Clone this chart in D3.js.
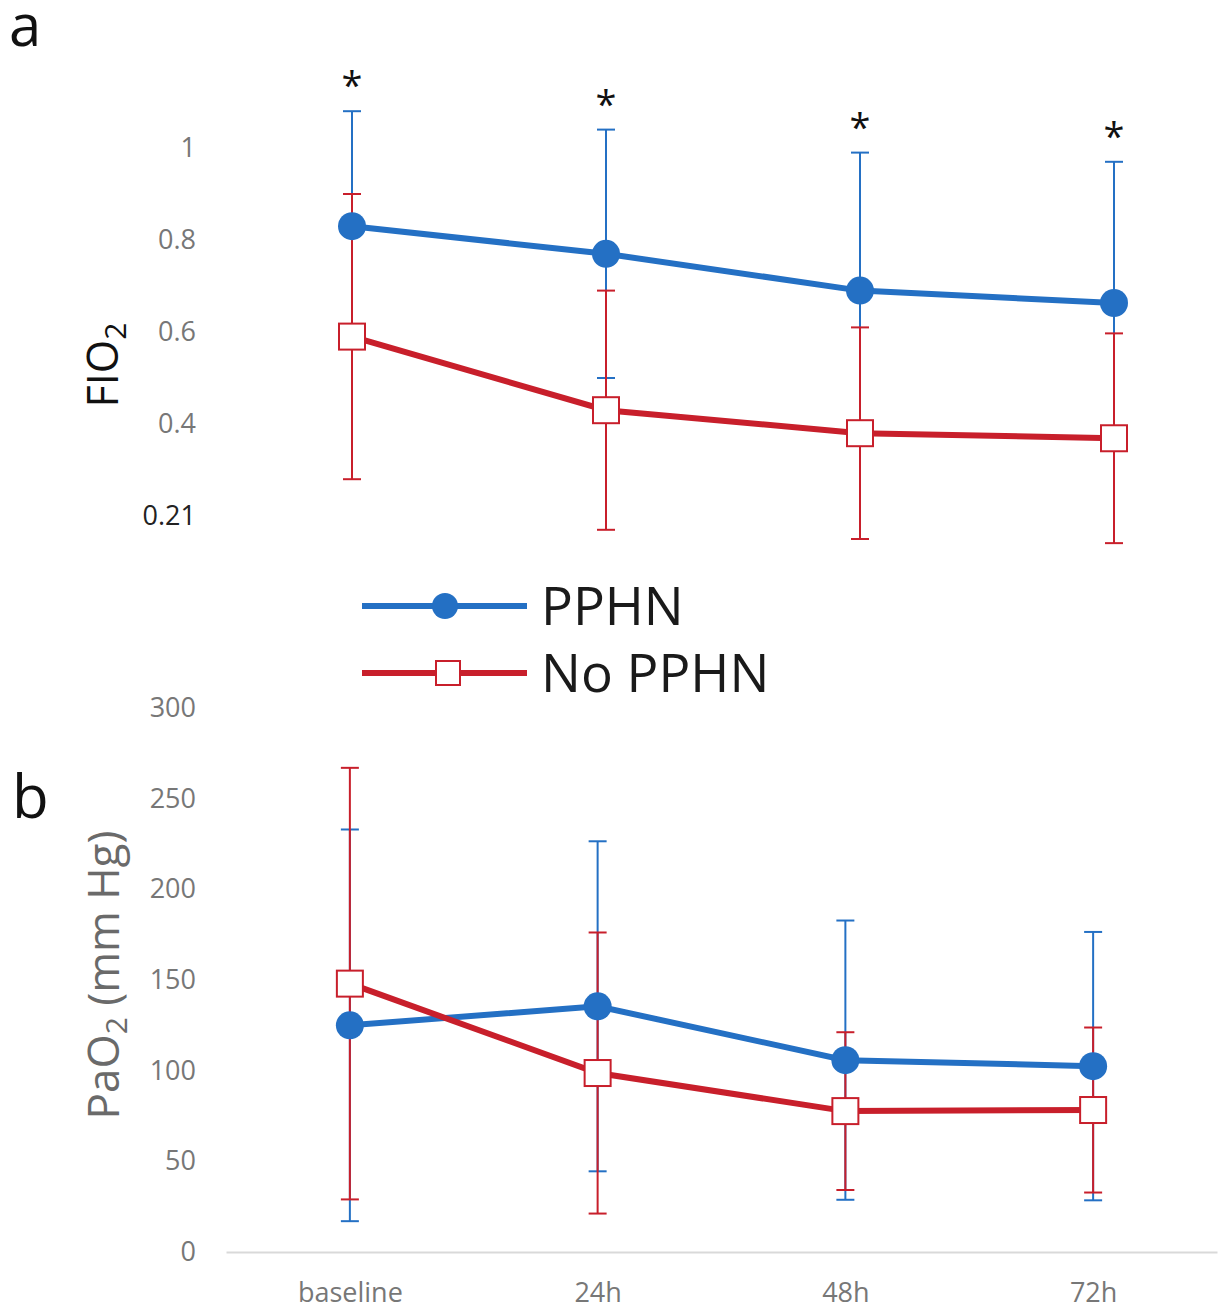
<!DOCTYPE html>
<html>
<head>
<meta charset="utf-8">
<script src="https://cdn.jsdelivr.net/npm/d3@7"></script>
<style>
  body { margin: 0; background: #fff; }
  text { font-family: "Open Sans", "Noto Sans", sans-serif; }
</style>
</head>
<body>
<div id="chart"></div>
<script>
// time points
const categories = ["baseline", "24h", "48h", "72h"]

// panel a: FIO2 mean and SD
const fioPPHN = [0.83, 0.77, 0.69, 0.663]
const fioPPHNsd = [0.25, 0.27, 0.30, 0.307]
const fioNoPPHN = [0.59, 0.43, 0.38, 0.369]
const fioNoPPHNsd = [0.31, 0.26, 0.23, 0.228]
const fioTicks = [0.2, 0.4, 0.6, 0.8, 1]
const fioTickLabels = ["0.21", "0.4", "0.6", "0.8", "1"]

// panel b: PaO2 mean and SD
const paoPPHN = [125, 135.5, 105.8, 102.5]
const paoPPHNsd = [108, 91, 77, 74]
const paoNoPPHN = [148, 98.7, 77.7, 78.3]
const paoNoPPHNsd = [119, 77.5, 43.5, 45.5]
const paoTicks = [0, 50, 100, 150, 200, 250, 300]

const seriesNames = ["PPHN", "No PPHN"]

const width = 1222
const height = 1309
const blue = '#2470c4'
const red = '#c81f2b'

let svg = d3.select("#chart")
    .append("svg")
    .attr("width", width)
    .attr("height", height)

// scales for the two panels
const xTop = d3.scalePoint().domain(categories).range([225, 1241]).padding(0.5)
const yTop = d3.scaleLinear().domain([0.2, 1]).range([516, 148])
const xBot = d3.scalePoint().domain(categories).range([226, 1217]).padding(0.5)
const yBot = d3.scaleLinear().domain([0, 300]).range([1252, 708])

/**
 * draws the error bars (mean +- sd) of one series
 */
function drawErrorBars(g, x, y, means, sds, color) {
    const pts = categories.map((c, i) => ({ c: c, m: means[i], sd: sds[i] }))
    const eb = g.append("g").attr("stroke", color).attr("stroke-width", 2)
    pts.forEach(p => {
        const cx = x(p.c)
        eb.append("line").attr("x1", cx).attr("x2", cx)
            .attr("y1", y(p.m + p.sd)).attr("y2", y(p.m - p.sd))
        ;[p.m + p.sd, p.m - p.sd].forEach(v => {
            eb.append("line").attr("x1", cx - 9).attr("x2", cx + 9)
                .attr("y1", y(v)).attr("y2", y(v))
        })
    })
    return pts
}

/**
 * draws the line and the markers of one series
 */
function drawLineMarkers(g, x, y, pts, color, marker) {
    const line = d3.line().x(d => x(d.c)).y(d => y(d.m))
    g.append("path").datum(pts)
        .attr("fill", "none").attr("stroke", color).attr("stroke-width", 6)
        .attr("d", line)
    if (marker === "circle") {
        g.selectAll(null).data(pts).enter().append("circle")
            .attr("cx", d => x(d.c)).attr("cy", d => y(d.m)).attr("r", 14)
            .attr("fill", color)
    } else {
        g.selectAll(null).data(pts).enter().append("rect")
            .attr("x", d => x(d.c) - 13).attr("y", d => y(d.m) - 13)
            .attr("width", 26).attr("height", 26)
            .attr("fill", "#fff").attr("stroke", color).attr("stroke-width", 2)
    }
}

function drawPanel(x, y, pphn, pphnSd, no, noSd) {
    const g = svg.append("g")
    const p1 = drawErrorBars(g, x, y, pphn, pphnSd, blue)
    const p2 = drawErrorBars(g, x, y, no, noSd, red)
    drawLineMarkers(g, x, y, p1, blue, "circle")
    drawLineMarkers(g, x, y, p2, red, "square")
    return p1
}

// ---- panel a ----
const topPts = drawPanel(xTop, yTop, fioPPHN, fioPPHNsd, fioNoPPHN, fioNoPPHNsd)

svg.append("g")
    .attr("transform", "translate(200,0)")
    .call(d3.axisLeft(yTop).tickValues(fioTicks).tickSize(0).tickPadding(4)
        .tickFormat((d, i) => fioTickLabels[i]))
    .call(g => g.select(".domain").remove())
    .selectAll("text")
    .attr("font-size", 27)
    .attr("font-family", '"Open Sans", sans-serif')
    .attr("fill", (d, i) => i === 0 ? "#222" : "#777")

// significance asterisks
svg.append("g").selectAll("text").data(topPts).enter().append("text")
    .attr("x", d => xTop(d.c))
    .attr("y", d => yTop(d.m + d.sd) - 12)
    .attr("text-anchor", "middle")
    .attr("font-size", 38)
    .attr("fill", "#111")
    .text("*")

// FIO2 label
let fio = svg.append("text")
    .attr("transform", "translate(118,365) rotate(-90)")
    .attr("text-anchor", "middle")
    .attr("font-size", 43)
    .attr("fill", "#111")
fio.append("tspan").text("FIO")
fio.append("tspan").attr("font-size", 30).attr("dy", 8).text("2")

svg.append("text").attr("x", 9).attr("y", 46)
    .attr("font-size", 58).attr("fill", "#111").text("a")

// legend
const legend = svg.append("g")
seriesNames.forEach((name, i) => {
    const ly = 606 + i * 67
    const color = i === 0 ? blue : red
    legend.append("line").attr("x1", 362).attr("x2", 527)
        .attr("y1", ly).attr("y2", ly)
        .attr("stroke", color).attr("stroke-width", 6)
    if (i === 0) {
        legend.append("circle").attr("cx", 445).attr("cy", ly).attr("r", 13).attr("fill", color)
    } else {
        legend.append("rect").attr("x", 436).attr("y", ly - 12).attr("width", 24).attr("height", 24)
            .attr("fill", "#fff").attr("stroke", color).attr("stroke-width", 2)
    }
    legend.append("text").attr("x", 541).attr("y", ly + 19)
        .attr("font-size", 53).attr("fill", "#1a1a1a").text(name)
})

// ---- panel b ----
svg.append("g")
    .attr("transform", "translate(0,1252)")
    .call(d3.axisBottom(xBot).tickSize(0).tickSizeOuter(0).tickPadding(31))
    .call(g => g.select(".domain").attr("stroke", "#d9d9d9").attr("stroke-width", 2))
    .selectAll("text")
    .attr("font-size", 27)
    .attr("font-family", '"Open Sans", sans-serif')
    .attr("fill", "#777")

drawPanel(xBot, yBot, paoPPHN, paoPPHNsd, paoNoPPHN, paoNoPPHNsd)

svg.append("g")
    .attr("transform", "translate(200,0)")
    .call(d3.axisLeft(yBot).tickValues(paoTicks).tickSize(0).tickPadding(4))
    .call(g => g.select(".domain").remove())
    .selectAll("text")
    .attr("font-size", 27)
    .attr("font-family", '"Open Sans", sans-serif')
    .attr("fill", "#777")

let pao = svg.append("text")
    .attr("transform", "translate(119,975) rotate(-90)")
    .attr("text-anchor", "middle")
    .attr("font-size", 44)
    .attr("fill", "#6a6a6a")
pao.append("tspan").text("PaO")
pao.append("tspan").attr("font-size", 30).attr("dy", 8).text("2")
pao.append("tspan").attr("dy", -8).text(" (mm Hg)")

svg.append("text").attr("x", 12).attr("y", 818)
    .attr("font-size", 60).attr("fill", "#111").text("b")
</script>
</body>
</html>
